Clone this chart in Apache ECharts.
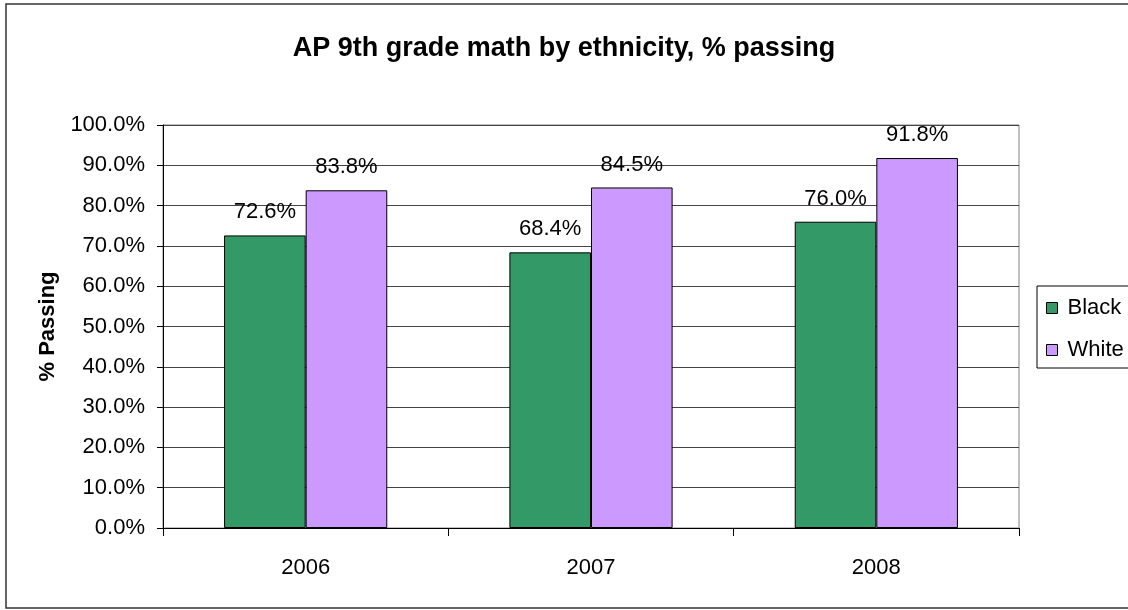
<!DOCTYPE html>
<html>
<head>
<meta charset="utf-8">
<script src="https://cdn.jsdelivr.net/npm/echarts@6/dist/echarts.min.js"></script>
<style>
html,body{margin:0;padding:0;background:#fff;}
#chart{width:1128px;height:610px;}
</style>
</head>
<body>
<div id="chart"></div>
<script>
const titleText = 'AP 9th grade math by ethnicity, % passing';
const yAxisTitle = '% Passing';
const categories = ['2006', '2007', '2008'];
const seriesNames = ['Black', 'White'];
const blackValues = [72.6, 68.4, 76.0];
const whiteValues = [83.8, 84.5, 91.8];
const yTicks = [0, 10, 20, 30, 40, 50, 60, 70, 80, 90, 100];

const FONT = '"Liberation Sans", Arial, sans-serif';
const chart = echarts.init(document.getElementById('chart'), null, {renderer: 'canvas'});

const labelCfg = {
  show: true,
  position: 'top',
  distance: 12,
  color: '#000',
  fontFamily: FONT,
  fontSize: 22,
  formatter: p => p.value.toFixed(1) + '%'
};

chart.setOption({
  animation: false,
  backgroundColor: '#fff',
  textStyle: {fontFamily: FONT},
  title: {
    text: titleText,
    left: 'center',
    top: 30,
    textStyle: {fontFamily: FONT, fontSize: 27, fontWeight: 'bold', color: '#000'}
  },
  graphic: [{
    type: 'rect',
    shape: {x: 6, y: 4, width: 1140, height: 604},
    style: {fill: 'none', stroke: '#333', lineWidth: 1.5},
    silent: true,
    z: -1
  }],
  legend: {
    orient: 'vertical',
    left: 1037,
    top: 286,
    width: 90,
    padding: [11, 12, 7, 9],
    itemGap: 20,
    itemWidth: 11,
    itemHeight: 11,
    borderColor: '#000',
    borderWidth: 1,
    backgroundColor: '#fff',
    icon: 'rect',
    textStyle: {fontFamily: FONT, fontSize: 22, color: '#000', lineHeight: 22, padding: [0, 0, 0, 5]},
    data: seriesNames,
    itemStyle: {borderColor: '#000', borderWidth: 1}
  },
  grid: {
    left: 163,
    top: 125,
    right: 109,
    bottom: 82,
    show: true,
    borderColor: '#808080',
    borderWidth: 1,
    backgroundColor: '#fff'
  },
  xAxis: {
    type: 'category',
    data: categories,
    axisLine: {lineStyle: {color: '#000', width: 1}},
    axisTick: {show: true, alignWithLabel: false, interval: 0, length: 8, lineStyle: {color: '#000'}},
    axisLabel: {margin: 29, color: '#000', fontFamily: FONT, fontSize: 22}
  },
  yAxis: {
    type: 'value',
    min: 0,
    max: 100,
    interval: 10,
    name: yAxisTitle,
    nameLocation: 'middle',
    nameRotate: 90,
    nameGap: 104,
    nameTextStyle: {fontFamily: FONT, fontSize: 22, fontWeight: 'bold', color: '#000'},
    axisLine: {show: true, lineStyle: {color: '#000', width: 1}},
    axisTick: {show: true, inside: false, length: 6, lineStyle: {color: '#000'}},
    axisLabel: {margin: 18, color: '#000', fontFamily: FONT, fontSize: 22,
      formatter: v => yTicks.includes(v) ? v.toFixed(1) + '%' : ''},
    splitLine: {show: true, lineStyle: {color: '#444', width: 1}}
  },
  series: [
    {
      name: seriesNames[0],
      type: 'bar',
      data: blackValues,
      barWidth: '28.6%',
      barGap: '0%',
      itemStyle: {color: '#339966', borderColor: '#000', borderWidth: 1},
      label: labelCfg
    },
    {
      name: seriesNames[1],
      type: 'bar',
      data: whiteValues,
      barWidth: '28.6%',
      barGap: '0%',
      itemStyle: {color: '#CC99FF', borderColor: '#000', borderWidth: 1},
      label: labelCfg
    }
  ]
});
</script>
</body>
</html>
